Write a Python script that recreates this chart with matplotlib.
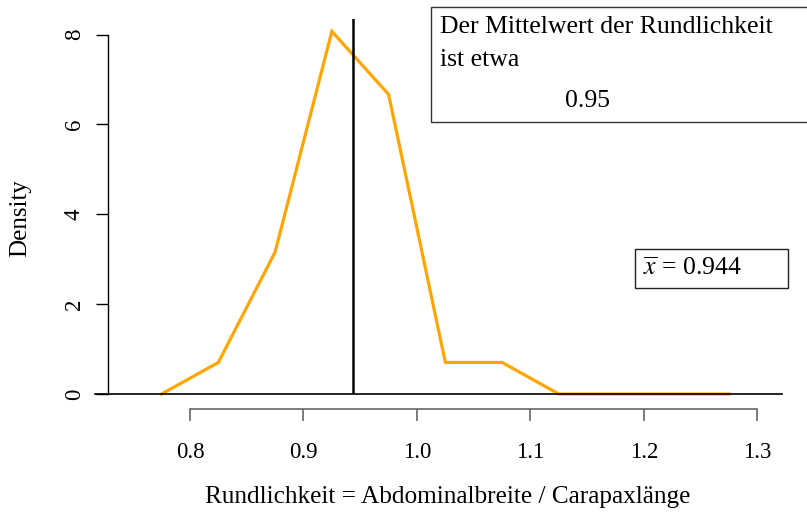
import matplotlib
matplotlib.use('Agg')
import matplotlib.pyplot as plt
from matplotlib.patches import Rectangle
import numpy as np

# frequency polygon of the roundness (density, bin width 0.05)
mids = [0.775, 0.825, 0.875, 0.925, 0.975, 1.025, 1.075, 1.125, 1.175, 1.225, 1.275]
dens = [0.0, 0.702, 3.158, 8.07, 6.667, 0.702, 0.702, 0.0, 0.0, 0.0, 0.0]
mean_val = 0.944
xticks = [0.8, 0.9, 1.0, 1.1, 1.2, 1.3]
yticks = [0, 2, 4, 6, 8]

W, H = 807, 513
plt.rcParams['font.family'] = ['Liberation Serif', 'DejaVu Serif']
plt.rcParams['mathtext.fontset'] = 'stix'

fig = plt.figure(figsize=(W / 100, H / 100), dpi=100)

def fx(px):
	return px / W

def fy(py):
	return 1 - py / H

ax = fig.add_axes([fx(95), fy(394), fx(782) - fx(95), fy(19) - fy(394)])
ax.set_xlim(0.7163, 1.3216)
ax.set_ylim(0, 8.345)

ax.plot(mids, dens, color='#FFA500', lw=2.3, solid_joinstyle='miter', clip_on=False)
ax.axhline(0, color='black', lw=1.2, zorder=5, clip_on=False)
ax.plot([mean_val, mean_val], [0, 8.345], color='black', lw=1.8)

for s in ['top', 'right']:
	ax.spines[s].set_visible(False)

ax.spines['left'].set_position(('data', 0.7278))
ax.spines['left'].set_bounds(0, 8)
ax.spines['left'].set_linewidth(1.0)
ax.set_yticks(yticks)
ax.set_yticklabels([str(v) for v in yticks], rotation=90, va='center', fontsize=16.5)
ax.tick_params(axis='y', length=8.6, width=1.0, pad=8)

ax.spines['bottom'].set_position(('outward', 10.8))
ax.spines['bottom'].set_bounds(0.8, 1.3)
ax.spines['bottom'].set_color('#666666')
ax.spines['bottom'].set_linewidth(1.2)
ax.set_xticks(xticks)
ax.set_xticklabels(['%.1f' % v for v in xticks], fontsize=16.5)
ax.tick_params(axis='x', length=8.6, width=1.2, color='#666666', pad=15)

fig.text(fx(20), fy(218), 'Density', rotation=90, ha='center', va='center', fontsize=18)
fig.text(fx(448), fy(497), 'Rundlichkeit = Abdominalbreite / Carapaxlänge',
	ha='center', va='center', fontsize=18.2)

# note box top right
fig.add_artist(Rectangle((fx(431), fy(122)), fx(400), fy(7) - fy(122),
	transform=fig.transFigure, fill=False, edgecolor='#333333', lw=1.0))
fig.text(fx(440), fy(27), 'Der Mittelwert der Rundlichkeit', ha='left', va='center', fontsize=18.5)
fig.text(fx(440), fy(60), 'ist etwa', ha='left', va='center', fontsize=18.5)
fig.text(fx(587), fy(101), '0.95', ha='center', va='center', fontsize=18.5)

# mean box
fig.add_artist(Rectangle((fx(635), fy(288)), fx(788) - fx(635), fy(249) - fy(288),
	transform=fig.transFigure, fill=False, edgecolor='#222222', lw=1.0))
fig.text(fx(643), fy(268), r'$\overline{x}$ = 0.944', ha='left', va='center', fontsize=18.5)

fig.savefig('out.png', dpi=100)
